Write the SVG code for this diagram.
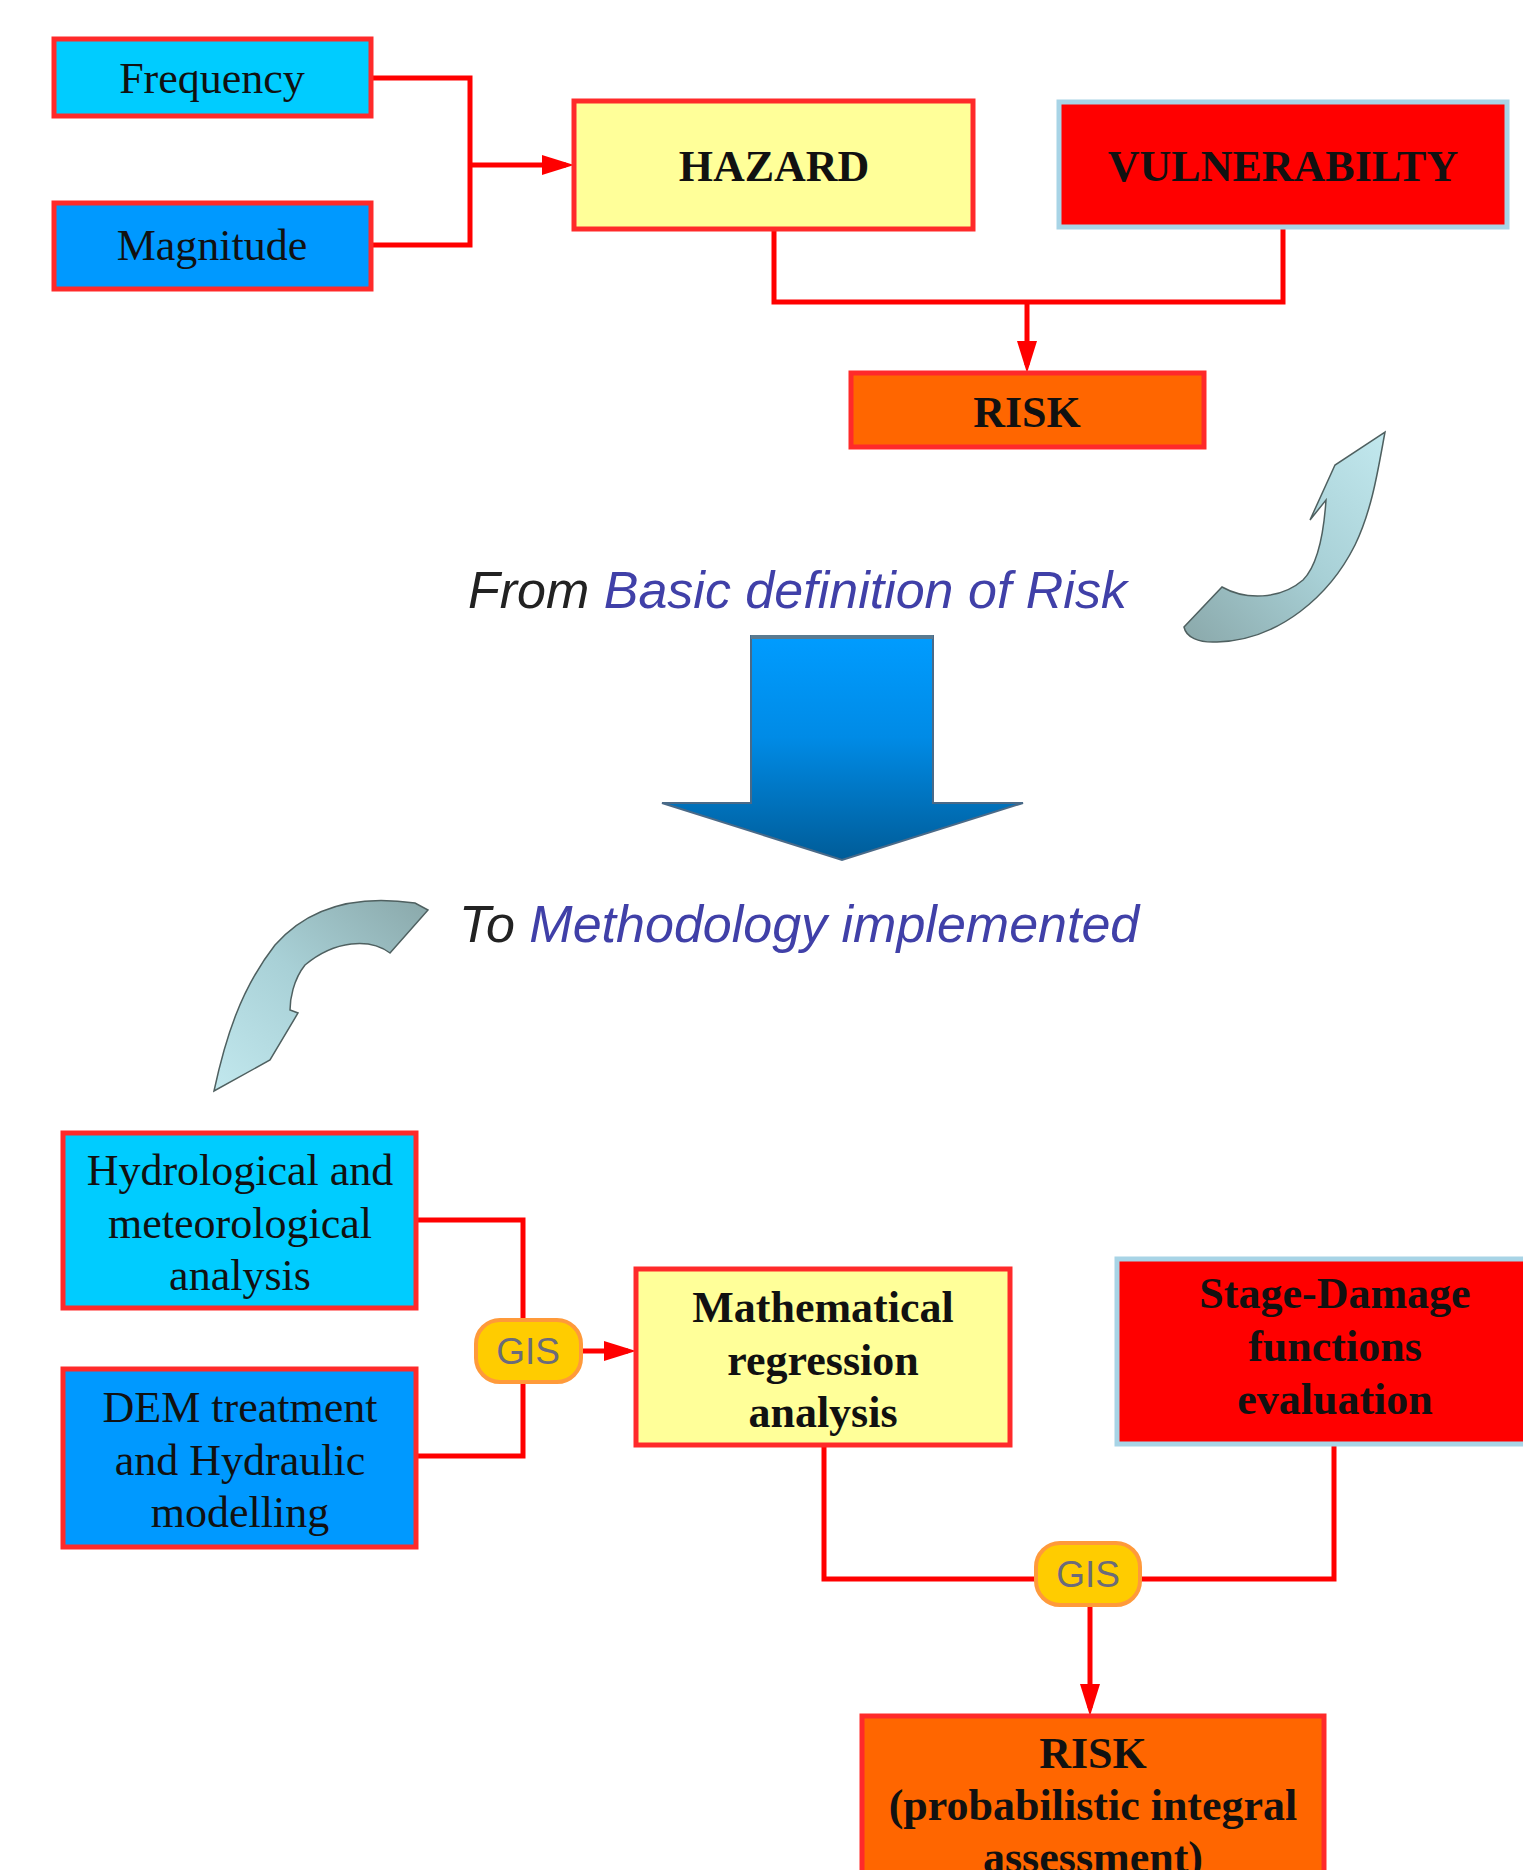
<svg xmlns="http://www.w3.org/2000/svg" width="1523" height="1870" viewBox="0 0 1523 1870">
<style>
.box{stroke:#ff2a2a;stroke-width:5}
.vul{stroke:#a8d4e6;stroke-width:5}
.t{font-family:"Liberation Serif","Times New Roman",serif;font-size:44px;fill:#111;text-anchor:middle}
.b{font-weight:bold}
.con{fill:none;stroke:#ff0000;stroke-width:5}
.gis{fill:#ffcc00;stroke:#ff9a3a;stroke-width:4}
.gt{font-family:"Liberation Sans",Arial,sans-serif;font-size:37px;fill:#6b6b7b;text-anchor:middle}
.cap{font-family:"Liberation Sans",Arial,sans-serif;font-size:52px;font-style:italic}
.curl{stroke:#4f6060;stroke-width:1.5}
</style>
<defs>
<marker id="ah" markerUnits="userSpaceOnUse" markerWidth="32" markerHeight="20" refX="24" refY="10" orient="auto"><path d="M0,0 L32,10 L0,20 z" fill="#ff0000"/></marker>
<linearGradient id="blue" x1="0" y1="0" x2="0" y2="1"><stop offset="0" stop-color="#009cff"/><stop offset="0.45" stop-color="#008be6"/><stop offset="1" stop-color="#005c98"/></linearGradient>
<linearGradient id="curlA" x1="0" y1="1" x2="1" y2="0"><stop offset="0" stop-color="#8aa8aa"/><stop offset="0.5" stop-color="#a8d0d6"/><stop offset="1" stop-color="#c2e8ee"/></linearGradient>
<linearGradient id="curlB" x1="1" y1="0" x2="0" y2="1"><stop offset="0" stop-color="#8aa8aa"/><stop offset="0.5" stop-color="#a8d0d6"/><stop offset="1" stop-color="#c2e8ee"/></linearGradient>
</defs>
<rect width="1523" height="1870" fill="#ffffff"/>

<g id="connectors">
<path class="con" d="M371 78 H470 V245 H371"/>
<path class="con" d="M470 165 H566" marker-end="url(#ah)"/>
<path class="con" d="M774 229 V302 H1283 V227"/>
<path class="con" d="M1027 302 V365" marker-end="url(#ah)"/>
<path class="con" d="M416 1220 H523 V1456 H416"/>
<path class="con" d="M581 1351 H628" marker-end="url(#ah)"/>
<path class="con" d="M824 1445 V1579 H1334 V1444"/>
<path class="con" d="M1090 1605 V1708" marker-end="url(#ah)"/>
</g>

<g id="frequency"><rect class="box" x="54" y="39" width="317" height="77" fill="#00ccff"/><text class="t" x="212" y="93">Frequency</text></g>
<g id="magnitude"><rect class="box" x="54" y="203" width="317" height="86" fill="#0099ff"/><text class="t" x="212" y="260">Magnitude</text></g>
<g id="hazard"><rect class="box" x="574" y="101" width="399" height="128" fill="#ffff99"/><text class="t b" x="774" y="181">HAZARD</text></g>
<g id="vulnerability"><rect class="vul" x="1059" y="102" width="448" height="125" fill="#ff0000"/><text class="t b" x="1283" y="181">VULNERABILTY</text></g>
<g id="risk"><rect class="box" x="851" y="373" width="353" height="74" fill="#ff6600"/><text class="t b" x="1027" y="427">RISK</text></g>

<g id="curl-up">
<path class="curl" fill="url(#curlA)" d="M1385 432 C1378 470 1372 510 1355 545 C1330 595 1280 640 1217 642 C1198 643 1186 637 1184 627 L1222 587 C1245 600 1280 600 1303 580 C1318 565 1324 530 1326 500 L1310 520 L1335 465 Z"/>
</g>
<g id="caption-from"><text class="cap" x="468" y="608"><tspan fill="#222">From </tspan><tspan fill="#4040a8">Basic definition of Risk</tspan></text></g>
<g id="big-arrow"><path d="M751 636 H933 V803 H1023 L842 860 L662 803 H751 Z" fill="url(#blue)" stroke="#4a6a88" stroke-width="2"/><path d="M751 637 H933" stroke="#5a7a90" stroke-width="4"/></g>
<g id="caption-to"><text class="cap" x="459" y="942"><tspan fill="#222">To </tspan><tspan fill="#4040a8">Methodology implemented</tspan></text></g>
<g id="curl-down">
<path class="curl" fill="url(#curlB)" d="M214 1091 C225 1040 240 990 275 945 C310 905 360 895 415 903 L428 910 L390 953 C370 938 335 940 305 965 C293 980 290 1000 290 1010 L298 1013 L270 1060 Z"/>
</g>

<g id="hydro"><rect class="box" x="63" y="1133" width="353" height="175" fill="#00ccff"/><text class="t" x="240" y="1185">Hydrological and</text><text class="t" x="240" y="1238">meteorological</text><text class="t" x="240" y="1290">analysis</text></g>
<g id="dem"><rect class="box" x="63" y="1369" width="353" height="178" fill="#0099ff"/><text class="t" x="240" y="1422">DEM treatment</text><text class="t" x="240" y="1475">and Hydraulic</text><text class="t" x="240" y="1527">modelling</text></g>
<g id="gis1"><rect class="gis" x="476" y="1320" width="105" height="62" rx="24"/><text class="gt" x="528" y="1364">GIS</text></g>
<g id="math"><rect class="box" x="636" y="1269" width="374" height="176" fill="#ffff99"/><text class="t b" x="823" y="1322">Mathematical</text><text class="t b" x="823" y="1375">regression</text><text class="t b" x="823" y="1427">analysis</text></g>
<g id="stage"><rect class="vul" x="1117" y="1259" width="450" height="185" fill="#ff0000"/><text class="t b" x="1335" y="1308">Stage-Damage</text><text class="t b" x="1335" y="1361">functions</text><text class="t b" x="1335" y="1414">evaluation</text></g>
<g id="gis2"><rect class="gis" x="1036" y="1543" width="104" height="62" rx="24"/><text class="gt" x="1088" y="1587">GIS</text></g>
<g id="risk2"><rect class="box" x="862" y="1716" width="462" height="200" fill="#ff6600"/><text class="t b" x="1093" y="1768">RISK</text><text class="t b" x="1093" y="1820">(probabilistic integral</text><text class="t b" x="1093" y="1872">assessment)</text></g>
</svg>
